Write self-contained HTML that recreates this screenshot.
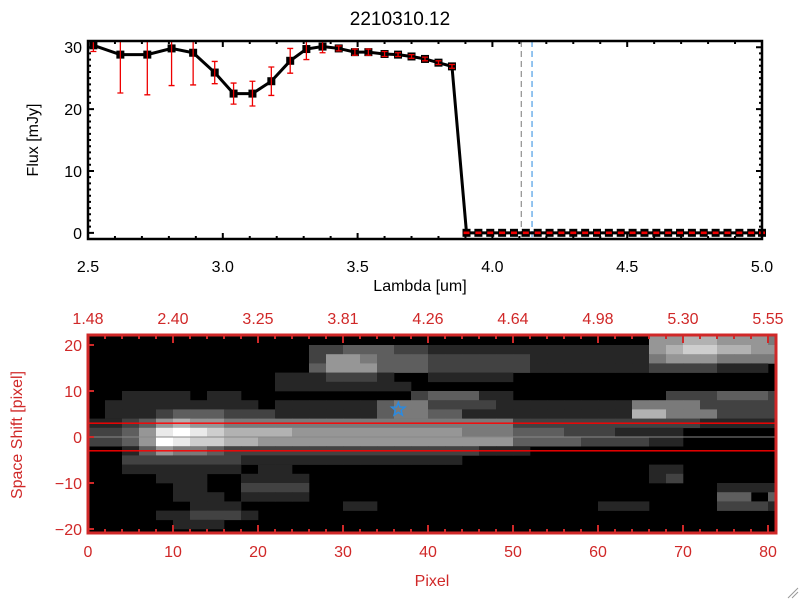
<!DOCTYPE html>
<html><head><meta charset="utf-8"><style>
body{margin:0;background:#fff;}
svg text{font-family:"Liberation Sans",sans-serif;}
</style></head><body>
<svg id="c" width="800" height="600" xmlns="http://www.w3.org/2000/svg">
<rect width="800" height="600" fill="#fff"/>
<text x="400" y="25" font-size="19" text-anchor="middle">2210310.12</text>
<g id="topg"></g>
<g id="botg"></g>
<path d="M788 598 L798 588 M792 598 L798 592" stroke="#999" stroke-width="1"/>
</svg>
<script>
const lambdaVals=[2.52,2.62,2.72,2.81,2.89,2.97,3.04,3.11,3.18,3.25,3.31,3.37,3.43,3.49,3.54,3.60,3.65,3.70,3.75,3.80,3.85,
3.904,3.948,3.992,4.036,4.080,4.124,4.168,4.212,4.256,4.300,4.344,4.388,4.432,4.476,4.520,4.564,4.608,4.652,4.696,4.740,4.784,4.828,4.872,4.916,4.960,5.0];
const fluxVals=[30.3,28.8,28.8,29.8,29.1,25.9,22.5,22.5,24.5,27.8,29.7,30.1,29.8,29.2,29.2,28.9,28.8,28.5,28.1,27.5,26.9,
0,0,0,0,0,0,0,0,0,0,0,0,0,0,0,0,0,0,0,0,0,0,0,0,0,0];
const errVals=[1.0,6.2,6.5,6.0,5.2,1.8,1.7,2.0,2.3,2.0,1.7,1.0,0.4,0.5,0.5,0.4,0.3,0.3,0.3,0.3,0.3,
0.1,0.1,0.1,0.1,0.1,0.1,0.1,0.1,0.1,0.1,0.1,0.1,0.1,0.1,0.1,0.1,0.1,0.1,0.1,0.1,0.1,0.1,0.1,0.1,0.1,0.1];
const xTickLabels=["2.5","3.0","3.5","4.0","4.5","5.0"];
const yTickLabels=["0","10","20","30"];
const markerLines=[4.107,4.147];
const pixTickLabels=["0","10","20","30","40","50","60","70","80"];
const waveTickLabels=["1.48","2.40","3.25","3.81","4.26","4.64","4.98","5.30","5.55"];
const shiftTickLabels=["-20","-10","0","10","20"];
const apertureLines=[3,-3];
const starPos=[36.5,6];
const imageRows=[
"00000000000000000000000000000000055665554",
"00000000000002233322111111111111156776655",
"00000000000002554333222222111111145554444",
"00000000000003555333222222111111122221110",
"00000000000111222100111110000000000000000",
"00000000000111111110000000000000000000000",
"00111101100000000002333110000000002223332",
"01111111110111111344222211111111444422222",
"01112333222111111344331111111111664442222",
"11235655444444444444444442222222222211111",
"22358987666655555555554443332221111000000",
"22359877665555555555555553333222211000000",
"00135443222222222222222111000000000000000",
"00222222211111111111110000000000000000000",
"00111111101100000000000000000000011000000",
"00001110011110000000000000000000012000000",
"00000110022220000000000000000000000001111",
"00000111011110000000000000000000000003303",
"00000011100000011000000000000011100002221",
"00001122210000000000000000000000000000000",
"00000111000000000000000000000000000000000",
"00000000000000000000000000000000000000000"];
const NS="http://www.w3.org/2000/svg";
function mk(parent,tag,attrs){const el=document.createElementNS(NS,tag);for(const k in attrs)el.setAttribute(k,attrs[k]);parent.appendChild(el);return el;}
const TX0=88,TX1=762,TY0=239,TY1=41;
const xs=l=>TX0+(l-2.5)/2.5*(TX1-TX0);
const ys=f=>TY0-(f+1)/32*(TY0-TY1);
const topG=document.getElementById('topg');
let e;
for(let i=0;i<=25;i++){const l=2.5+i*0.1;const len=(i%5==0)?6:3;
 e=mk(topG,'path',{d:`M${xs(l)} ${TY0} v${-len} M${xs(l)} ${TY1} v${len}`,stroke:'#000','stroke-width':2});
 
 }
for(let v=0;v<=31;v++){const len=(v%10==0)?6:3;
 e=mk(topG,'path',{d:`M${TX0} ${ys(v)} h${len} M${TX1} ${ys(v)} h${-len}`,stroke:'#000','stroke-width':2});
 
 }
xTickLabels.forEach((t,i)=>{e=mk(topG,'text',{x:xs(parseFloat(t)),y:272,'font-size':16,'text-anchor':'middle'});e.textContent=t;
 
 });
yTickLabels.forEach(t=>{e=mk(topG,'text',{x:TX0-6,y:ys(parseFloat(t))+6,'font-size':16,'text-anchor':'end'});e.textContent=t;
 
 });
e=mk(topG,'text',{x:420,y:291,'font-size':16,'text-anchor':'middle'});e.textContent='Lambda [um]';


e=mk(topG,'text',{x:0,y:0,'font-size':16,'text-anchor':'middle',transform:'translate(38,140) rotate(-90)'});e.textContent='Flux [mJy]';


markerLines.forEach((l,i)=>{e=mk(topG,'line',{x1:xs(l),x2:xs(l),y1:TY1,y2:TY0,stroke:i==0?'#777':'#2a8ae0','stroke-width':1,'stroke-dasharray':'6,4'});
 
 });
e=mk(topG,'line',{x1:xs(3.9),x2:TX1,y1:ys(0),y2:ys(0),stroke:'#e00','stroke-width':1,'stroke-dasharray':'5,3'});


let d=lambdaVals.map((l,i)=>(i?'L':'M')+xs(l)+' '+ys(fluxVals[i])).join(' ');
e=mk(topG,'path',{d:d,stroke:'#000','stroke-width':3,fill:'none'});


lambdaVals.forEach((l,i)=>{const x=xs(l),y=ys(fluxVals[i]);
 e=mk(topG,'rect',{x:x-4,y:y-4,width:8,height:8,fill:'#000'});
 
 
 const y1=Math.max(ys(fluxVals[i]+errVals[i]),TY1),y2=ys(fluxVals[i]-errVals[i]);
 e=mk(topG,'path',{d:`M${x} ${y1} V${y2} M${x-3} ${y1} h6 M${x-3} ${y2} h6`,stroke:'#e00','stroke-width':1.3,fill:'none'});
 
 });
e=mk(topG,'rect',{x:TX0,y:TY1,width:TX1-TX0,height:TY0-TY1,fill:'none',stroke:'#000','stroke-width':2.5});


const RED='#d02828';
const BX0=88,BY0=533,BY1=335;
const xb=p=>BX0+p*8.5;
const yb=v=>437-v*4.6;
const BX1=776;
const botG=document.getElementById('botg');
e=mk(botG,'rect',{x:BX0,y:BY1,width:BX1-BX0,height:BY0-BY1,fill:'#000'});


imageRows.forEach((row,r)=>{for(let c=0;c<row.length;c++){const lv=+row[c];if(!lv)continue;
 const g=Math.min(255,lv*28+10);const v0=22-2*r;
 const y0=Math.max(yb(v0),BY1),y1=Math.min(yb(v0-2),BY0);
 const x0=xb(2*c),x1=Math.min(xb(2*c+2),BX1);
 e=mk(botG,'rect',{x:x0,y:y0,width:x1-x0+0.3,height:y1-y0+0.3,fill:`rgb(${g},${g},${g})`});
 
 }});
apertureLines.forEach(v=>{e=mk(botG,'line',{x1:BX0,x2:BX1,y1:yb(v),y2:yb(v),stroke:'#f00','stroke-width':1.3});
 
 });
e=mk(botG,'line',{x1:BX0,x2:BX1,y1:yb(0),y2:yb(0),stroke:'#888','stroke-width':1});


{const cx=xb(starPos[0]),cy=yb(starPos[1]);let pts=[];for(let k=0;k<10;k++){const a=-Math.PI/2+k*Math.PI/5,r=k%2?3:7;pts.push((cx+r*Math.cos(a)).toFixed(1)+','+(cy+r*Math.sin(a)).toFixed(1));}
 e=mk(botG,'polygon',{points:pts.join(' '),fill:'none',stroke:'#2a8ae0','stroke-width':1.5});
 
 }
for(let p=0;p<=80;p+=2){const len=(p%10==0)?8:4;
 e=mk(botG,'path',{d:`M${xb(p)} ${BY0} v${-len} M${xb(p)} ${BY1} v${len}`,stroke:RED,'stroke-width':2});
 
 }
shiftTickLabels.forEach(t=>{const v=parseFloat(t);
 e=mk(botG,'path',{d:`M${BX0} ${yb(v)} h6`,stroke:RED,'stroke-width':2});
 
 
 e=mk(botG,'text',{x:BX0-6,y:yb(v)+6,'font-size':16,'text-anchor':'end',fill:RED});e.textContent=t.replace('-','\u2212');
 
 });
pixTickLabels.forEach((t,i)=>{const p=parseFloat(t);
 e=mk(botG,'text',{x:xb(p),y:557,'font-size':16,'text-anchor':'middle',fill:RED});e.textContent=t;
 
 
 e=mk(botG,'text',{x:xb(p),y:324,'font-size':16,'text-anchor':'middle',fill:RED});e.textContent=waveTickLabels[i];
 
 });
e=mk(botG,'rect',{x:BX0,y:BY1,width:BX1-BX0,height:BY0-BY1,fill:'none',stroke:RED,'stroke-width':3});


e=mk(botG,'text',{x:432,y:586,'font-size':16,'text-anchor':'middle',fill:RED});e.textContent='Pixel';


e=mk(botG,'text',{x:0,y:0,'font-size':16,'text-anchor':'middle',fill:RED,transform:'translate(22,435) rotate(-90)'});e.textContent='Space Shift [pixel]';


</script>
</body></html>
